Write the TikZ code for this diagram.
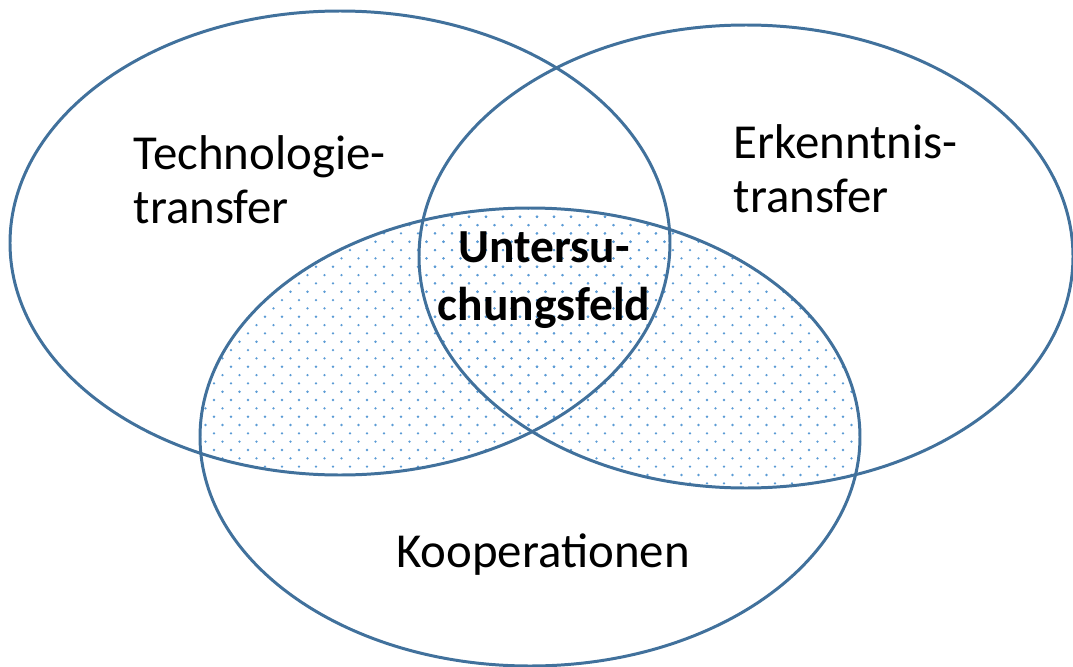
\documentclass[tikz,border=0pt]{standalone}
\usepackage{fontspec}
\setmainfont{Carlito}
\definecolor{ringblue}{RGB}{65,113,156}
\definecolor{dotblue}{RGB}{91,155,213}
\begin{document}
\begin{tikzpicture}[
		ring/.style={draw=ringblue,line width=0.85pt},
		venntext/.style={font=\fontsize{13.9}{15.3}\selectfont,inner sep=0pt},
		venncore/.style={font=\fontsize{13.5}{16.5}\selectfont\bfseries,inner sep=0pt}]
		\useasboundingbox (0,0) rectangle (10.73,6.66);
		% dotted part of the lower ellipse
		\begin{scope}
			\clip (5.30,2.29) ellipse [x radius=3.30, y radius=2.29];
			\foreach \cx/\cy/\rx/\ry in {3.40/4.23/3.30/2.32, 7.46/4.095/3.27/2.315}{
				\begin{scope}
					\clip (\cx,\cy) ellipse [x radius=\rx, y radius=\ry];
					\foreach \i in {0,...,35}{
						\foreach \j in {0,...,40}{
							\pgfmathtruncatemacro{\parity}{mod(\i,2)}
							\fill[dotblue] (1.97+0.17*\j+0.085*\parity,1.66+0.0833*\i) circle (0.013);
						}
					}
				\end{scope}
			}
		\end{scope}
		\draw[ring] (3.40,4.23) ellipse [x radius=3.30, y radius=2.32];
		\draw[ring] (7.46,4.095) ellipse [x radius=3.27, y radius=2.315];
		\draw[ring] (5.30,2.29) ellipse [x radius=3.30, y radius=2.29];
		\node[venntext,anchor=base west,align=left] (techno) at (1.33,4.43) {Technologie-\\transfer};
		\node[venntext,anchor=base west,align=left] (erkennt) at (7.33,4.54) {Erkenntnis-\\transfer};
		\node[venncore,anchor=base,align=center] (feld) at (5.44,3.46) {Untersu-\\chungsfeld};
		\node[venntext,anchor=base] (koop) at (5.43,0.99) {Kooperationen};
	\end{tikzpicture}
\end{document}
